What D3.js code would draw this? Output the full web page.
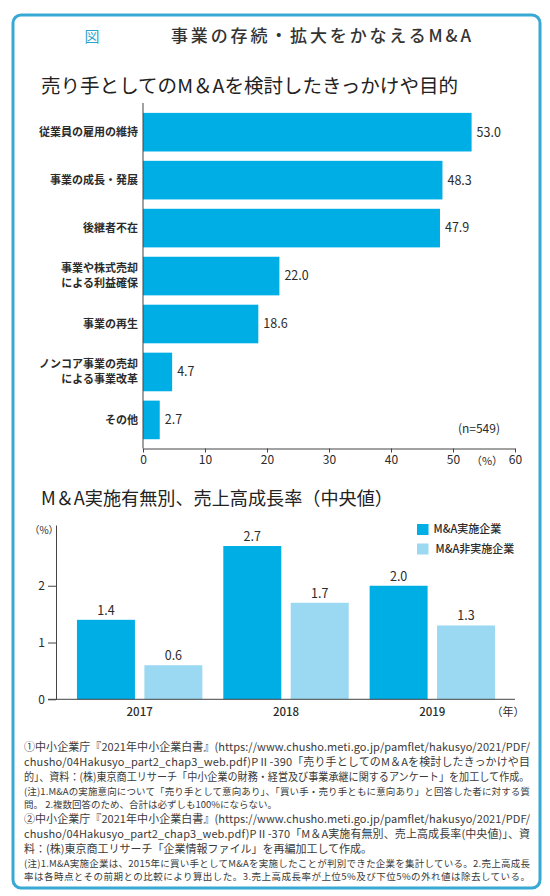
<!DOCTYPE html>
<html lang="ja">
    <head>
        <meta charset="utf-8">
        <title>事業の存続・拡大をかなえるM&A</title>
        <script type="text/javascript" src="https://cdn.jsdelivr.net/npm/d3@7"></script>
        <style type="text/css">
            body { margin: 0; background: #fff; }
            svg { display: block; font-family: "Noto Sans CJK JP", "Noto Sans", sans-serif; }
        </style>
    </head>

    <body>
        <script type="text/javascript">
            // Chart 1: reasons for considering M&A as seller (%)
            var reasons = [ ["従業員の雇用の維持"], ["事業の成長・発展"], ["後継者不在"],
                            ["事業や株式売却", "による利益確保"], ["事業の再生"],
                            ["ノンコア事業の売却", "による事業改革"], ["その他"] ];
            var reasonValues = [ 53.0, 48.3, 47.9, 22.0, 18.6, 4.7, 2.7 ];
            var reasonTicks = [ 0, 10, 20, 30, 40, 50, 60 ];

            // Chart 2: sales growth rate (median) by M&A
            var years = [ "2017", "2018", "2019" ];
            var seriesNames = [ "M&A実施企業", "M&A非実施企業" ];
            var maDone = [ 1.4, 2.7, 2.0 ];
            var maNotDone = [ 0.6, 1.7, 1.3 ];
            var growthTicks = [ 0, 1, 2 ];

            var footLines = [
                { t: "①中小企業庁『2021年中小企業白書』(https://www.chusho.meti.go.jp/pamflet/hakusyo/2021/PDF/", s: 11, full: true },
                { t: "chusho/04Hakusyo_part2_chap3_web.pdf)PⅡ-390「売り手としてのM＆Aを検討したきっかけや目", s: 11, full: true },
                { t: "的」、資料：(株)東京商工リサーチ「中小企業の財務・経営及び事業承継に関するアンケート」を加工して作成。", s: 11, full: true },
                { t: "(注)1.M&Aの実施意向について「売り手として意向あり」、「買い手・売り手ともに意向あり」と回答した者に対する質", s: 9.5, full: true },
                { t: "問。 2.複数回答のため、合計は必ずしも100%にならない。", s: 9.5, full: false },
                { t: "②中小企業庁『2021年中小企業白書』(https://www.chusho.meti.go.jp/pamflet/hakusyo/2021/PDF/", s: 11, full: true },
                { t: "chusho/04Hakusyo_part2_chap3_web.pdf)PⅡ-370「M＆A実施有無別、売上高成長率(中央値)」、資", s: 11, full: true },
                { t: "料：(株)東京商工リサーチ「企業情報ファイル」を再編加工して作成。", s: 11, full: false },
                { t: "(注)1.M&A実施企業は、2015年に買い手としてM&Aを実施したことが判別できた企業を集計している。2.売上高成長", s: 9.5, full: true },
                { t: "率は各時点とその前期との比較により算出した。3.売上高成長率が上位5%及び下位5%の外れ値は除去している。", s: 9.5, full: true }
            ];

            var w = 550;
            var h = 896;
            var dark = "#00aee6";
            var light = "#9bd8f2";
            var ink = "#2b2b2b";

            var svg = d3.select("body")
                        .append("svg")
                        .attr("width", w)
                        .attr("height", h);

            // outer frame
            svg.append("rect")
                .attr("x", 13).attr("y", 15)
                .attr("width", 527).attr("height", 873)
                .attr("rx", 8)
                .attr("fill", "none")
                .attr("stroke", "#38a9d4")
                .attr("stroke-width", 3);

            svg.append("text")
                .text("図")
                .attr("x", 92).attr("y", 42)
                .attr("text-anchor", "middle")
                .attr("font-size", "15px")
                .attr("fill", "#2aa6cc");

            svg.append("text")
                .text("事業の存続・拡大をかなえるM&A")
                .attr("x", 171).attr("y", 42)
                .attr("textLength", 300)
                .attr("lengthAdjust", "spacing")
                .attr("font-size", "17px")
                .attr("font-weight", 500)
                .attr("fill", "#333");

            svg.append("text")
                .text("売り手としてのM＆Aを検討したきっかけや目的")
                .attr("x", 41).attr("y", 93)
                .attr("textLength", 417)
                .attr("lengthAdjust", "spacingAndGlyphs")
                .attr("font-size", "19px")
                .attr("fill", "#222");

            // ---- chart 1 ----
            var xScale = d3.scaleLinear()
                            .domain([0, 60])
                            .range([143, 515]);

            var yBand = d3.scaleBand()
                            .domain(d3.range(reasons.length))
                            .range([108.2, 443.9])
                            .paddingInner(0.195)
                            .paddingOuter(0.0975);

            svg.selectAll("rect.reason")
                .data(reasonValues)
                .enter()
                .append("rect")
                .attr("class", "reason")
                .attr("x", xScale(0))
                .attr("y", function(d, i) {
                    return yBand(i);
                })
                .attr("width", function(d) {
                    return xScale(d) - xScale(0);
                })
                .attr("height", yBand.bandwidth())
                .attr("fill", dark);

            svg.selectAll("text.val1")
                .data(reasonValues)
                .enter()
                .append("text")
                .attr("class", "val1")
                .text(function(d) {
                    return d.toFixed(1);
                })
                .attr("x", function(d) {
                    return xScale(d) + 5;
                })
                .attr("y", function(d, i) {
                    return yBand(i) + yBand.bandwidth() / 2;
                })
                .attr("dy", "0.35em")
                .attr("font-size", "12.5px")
                .attr("fill", ink);

            // category labels, one text per line so two-line labels stack cleanly
            var catLines = [];
            reasons.forEach(function(lines, i) {
                lines.forEach(function(line, k) {
                    catLines.push({ i: i, k: k, n: lines.length, line: line });
                });
            });

            svg.selectAll("text.cat")
                .data(catLines)
                .enter()
                .append("text")
                .attr("class", "cat")
                .text(function(d) {
                    return d.line;
                })
                .attr("x", 138)
                .attr("y", function(d) {
                    return yBand(d.i) + yBand.bandwidth() / 2 + (d.k - (d.n - 1) / 2) * 15;
                })
                .attr("dy", "0.35em")
                .attr("text-anchor", "end")
                .attr("font-size", "11px")
                .attr("font-weight", "bold")
                .attr("fill", ink);

            // y axis line
            svg.append("line")
                .attr("x1", xScale(0)).attr("x2", xScale(0))
                .attr("y1", 103).attr("y2", 448.5)
                .attr("stroke", "#444")
                .attr("stroke-width", 1);

            var xAxis = d3.axisBottom(xScale)
                            .tickValues(reasonTicks)
                            .tickSize(4)
                            .tickSizeOuter(0)
                            .tickPadding(3);

            var gx = svg.append("g")
                .attr("transform", "translate(0,448.5)")
                .call(xAxis);
            gx.selectAll("path, line").attr("stroke", "#444");
            gx.selectAll("text")
                .attr("font-size", "12px")
                .attr("font-family", "\"Noto Sans CJK JP\", sans-serif")
                .attr("fill", ink);

            svg.append("text")
                .text("（%）")
                .attr("x", 487).attr("y", 464.5)
                .attr("text-anchor", "middle")
                .attr("font-size", "11px")
                .attr("fill", ink);

            svg.append("text")
                .text("(n=549)")
                .attr("x", 500).attr("y", 433)
                .attr("text-anchor", "end")
                .attr("font-size", "12px")
                .attr("fill", ink);

            // ---- chart 2 ----
            svg.append("text")
                .text("M＆A実施有無別、売上高成長率（中央値）")
                .attr("x", 41).attr("y", 505)
                .attr("textLength", 352)
                .attr("lengthAdjust", "spacingAndGlyphs")
                .attr("font-size", "18px")
                .attr("fill", "#222");

            var xYear = d3.scaleBand()
                            .domain(years)
                            .range([66.5, 505.5])
                            .paddingInner(0.143)
                            .paddingOuter(0.0715);

            var xSeries = d3.scaleBand()
                            .domain([0, 1])
                            .range([0, xYear.bandwidth()])
                            .paddingInner(0.14);

            var yGrowth = d3.scaleLinear()
                            .domain([0, 3.07])
                            .range([699.3, 525]);

            var pairs = years.map(function(y, i) {
                return [ { year: y, s: 0, v: maDone[i] }, { year: y, s: 1, v: maNotDone[i] } ];
            });
            var flat = [].concat.apply([], pairs);

            svg.selectAll("rect.growth")
                .data(flat)
                .enter()
                .append("rect")
                .attr("class", "growth")
                .attr("x", function(d) {
                    return xYear(d.year) + xSeries(d.s);
                })
                .attr("y", function(d) {
                    return yGrowth(d.v);
                })
                .attr("width", xSeries.bandwidth())
                .attr("height", function(d) {
                    return yGrowth(0) - yGrowth(d.v);
                })
                .attr("fill", function(d) {
                    return d.s === 0 ? dark : light;
                });

            svg.selectAll("text.val2")
                .data(flat)
                .enter()
                .append("text")
                .attr("class", "val2")
                .text(function(d) {
                    return d.v.toFixed(1);
                })
                .attr("x", function(d) {
                    return xYear(d.year) + xSeries(d.s) + xSeries.bandwidth() / 2;
                })
                .attr("y", function(d) {
                    return yGrowth(d.v) - 5;
                })
                .attr("text-anchor", "middle")
                .attr("font-size", "12.5px")
                .attr("fill", ink);

            var yAxis = d3.axisLeft(yGrowth)
                            .tickValues(growthTicks)
                            .tickFormat(d3.format("d"))
                            .tickSize(8)
                            .tickSizeOuter(0)
                            .tickPadding(3);

            var gy = svg.append("g")
                .attr("transform", "translate(56,0)")
                .call(yAxis);
            gy.selectAll("path, line").attr("stroke", "#444");
            gy.selectAll("text")
                .attr("font-size", "12px")
                .attr("font-family", "\"Noto Sans CJK JP\", sans-serif")
                .attr("fill", ink);

            // x baseline
            svg.append("line")
                .attr("x1", 48).attr("x2", 515)
                .attr("y1", yGrowth(0)).attr("y2", yGrowth(0))
                .attr("stroke", "#444");

            svg.selectAll("text.year")
                .data(years)
                .enter()
                .append("text")
                .attr("class", "year")
                .text(function(d) {
                    return d;
                })
                .attr("x", function(d) {
                    return xYear(d) + xYear.bandwidth() / 2;
                })
                .attr("y", 716)
                .attr("text-anchor", "middle")
                .attr("font-size", "11.5px")
                .attr("font-weight", 500)
                .attr("fill", ink);

            svg.append("text")
                .text("（年）")
                .attr("x", 508).attr("y", 716)
                .attr("text-anchor", "middle")
                .attr("font-size", "11px")
                .attr("fill", ink);

            svg.append("text")
                .text("（%）")
                .attr("x", 44).attr("y", 534)
                .attr("text-anchor", "middle")
                .attr("font-size", "10px")
                .attr("fill", ink);

            // legend
            var legend = svg.selectAll("g.legend")
                .data(seriesNames)
                .enter()
                .append("g")
                .attr("class", "legend")
                .attr("transform", function(d, i) {
                    return "translate(417," + (524 + i * 19.5) + ")";
                });
            legend.append("rect")
                .attr("width", 11.5).attr("height", 11)
                .attr("fill", function(d, i) {
                    return i === 0 ? dark : light;
                });
            legend.append("text")
                .text(function(d) {
                    return d;
                })
                .attr("x", function(d, i) {
                    return i === 0 ? 16.5 : 18.5;
                })
                .attr("y", 5.5)
                .attr("dy", "0.35em")
                .attr("font-size", "11px")
                .attr("font-weight", 500)
                .attr("fill", ink);

            // ---- footnotes ----
            // long lines are squeezed horizontally, justified lines get extra spacing
            var footY = [ 751, 766, 781, 795, 808, 823, 838, 853, 867, 880 ];
            var footW = 506;
            svg.selectAll("text.foot")
                .data(footLines)
                .enter()
                .append("text")
                .attr("class", "foot")
                .text(function(d) {
                    return d.t;
                })
                .attr("transform", function(d, i) {
                    return "translate(24," + footY[i] + ")";
                })
                .attr("font-size", function(d) {
                    return d.s + "px";
                })
                .attr("fill", "#3a3a3a")
                .each(function(d, i) {
                    var el = d3.select(this);
                    var natural = this.getComputedTextLength();
                    if (natural > footW) {
                        el.attr("transform", "translate(24," + footY[i] + ") scale(" + (footW / natural) + ",1)");
                    } else if (d.full) {
                        el.attr("textLength", footW)
                          .attr("lengthAdjust", "spacing");
                    }
                });
        </script>
    </body>
</html>
